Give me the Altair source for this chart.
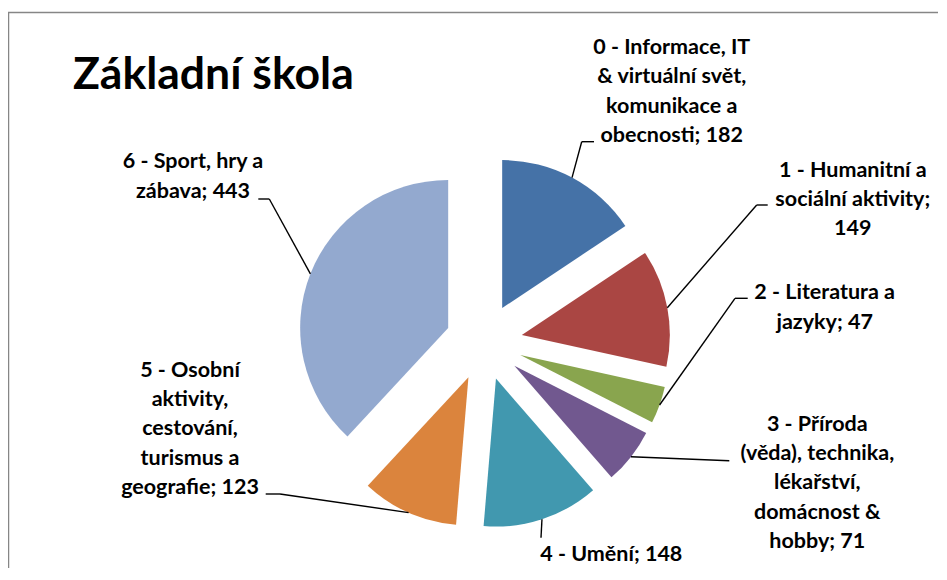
import altair as alt
import pandas as pd

# ---- data ----
codes = [0, 1, 2, 3, 4, 5, 6]
categories = [
    "Informace, IT & virtuální svět, komunikace a obecnosti",
    "Humanitní a sociální aktivity",
    "Literatura a jazyky",
    "Příroda (věda), technika, lékařství, domácnost & hobby",
    "Umění",
    "Osobní aktivity, cestování, turismus a geografie",
    "Sport, hry a zábava",
]
values = [182, 149, 47, 71, 148, 123, 443]
# label text wrapped as in the reference
label_lines = [
    ["0 - Informace, IT", "& virtuální svět,", "komunikace a", "obecnosti; 182"],
    ["1 - Humanitní a", "sociální aktivity;", "149"],
    ["2 - Literatura a", "jazyky; 47"],
    ["3 - Příroda", "(věda), technika,", "lékařství,", "domácnost &", "hobby; 71"],
    ["4 - Umění; 148"],
    ["5 - Osobní", "aktivity,", "cestování,", "turismus a", "geografie; 123"],
    ["6 - Sport, hry a", "zábava; 443"],
]
colors = ["#4572A7", "#AA4643", "#89A54E", "#71588F", "#4198AF", "#DB843D", "#93A9CF"]
title_text = "Základní škola"

# ---- layout (pixels) ----
CX, CY, R, EXPLODE = 476, 334, 148, 38.5
elbow_x = [573.7, 748.7, 727.0, 721.3, 533.0, 272.0, 261.3]
elbow_y = [133.7, 197.0, 290.3, 452.7, 529.7, 486.0, 191.0]
stub_x = [586.0, 759.7, 739.7, 721.3, 533.0, 257.7, 250.3]
stub_y = [133.7, 197.0, 290.3, 452.7, 529.7, 486.0, 191.0]
label_x = [663.7, 844.8, 816.7, 809.3, 603.3, 182.0, 185.0]
label_y = [46.0, 168.7, 291.3, 422.7, 552.7, 368.7, 160.3]

W, H = 930, 560
FONT = "Lato"

df = pd.DataFrame({
    "i": codes,
    "cat": categories,
    "v": values,
    "label": ["\n".join(l) for l in label_lines],
    "ex": elbow_x, "ey": elbow_y,
    "sx": stub_x, "sy": stub_y,
    "lx": label_x, "ly": label_y,
})

base = (
    alt.Chart(df)
    .transform_joinaggregate(total="sum(v)")
    .transform_window(cum="sum(v)", sort=[alt.SortField("i")], frame=[None, 0])
    .transform_calculate(t1="datum.cum / datum.total * 2 * PI")
    .transform_calculate(t0="(datum.cum - datum.v) / datum.total * 2 * PI")
    .transform_calculate(tm="(datum.t0 + datum.t1) / 2")
    .transform_calculate(cx=f"{CX} + {EXPLODE} * sin(datum.tm)")
    .transform_calculate(cy=f"{CY} - {EXPLODE} * cos(datum.tm)")
    .transform_calculate(mx=f"datum.cx + {R} * sin(datum.tm)")
    .transform_calculate(my=f"datum.cy - {R} * cos(datum.tm)")
)

slices = base.mark_arc(outerRadius=R, strokeWidth=0).encode(
    theta=alt.Theta("t0:Q", scale=None, stack=False),
    theta2="t1:Q",
    x=alt.X("cx:Q", scale=None),
    y=alt.Y("cy:Q", scale=None),
    color=alt.Color("cat:N", scale=alt.Scale(domain=categories, range=colors), legend=None),
)

lead1 = base.mark_rule(color="black", strokeWidth=1.4).encode(
    x=alt.X("mx:Q", scale=None), y=alt.Y("my:Q", scale=None),
    x2="ex:Q", y2="ey:Q",
)
lead2 = base.mark_rule(color="black", strokeWidth=1.4).encode(
    x=alt.X("ex:Q", scale=None), y=alt.Y("ey:Q", scale=None),
    x2="sx:Q", y2="sy:Q",
)

labels = base.mark_text(
    font=FONT, fontWeight="bold", fontSize=21.5, lineHeight=29.3,
    align="center", baseline="alphabetic", lineBreak="\n", color="black",
).encode(
    x=alt.X("lx:Q", scale=None), y=alt.Y("ly:Q", scale=None), text="label:N",
)

title = alt.Chart(pd.DataFrame({"t": [title_text]})).mark_text(
    font=FONT, fontWeight="bold", fontSize=44.5, align="left", baseline="alphabetic", color="black",
).encode(x=alt.value(65), y=alt.value(81), text="t:N")

frame_top = alt.Chart(pd.DataFrame({"a": [0]})).mark_rule(color="#868686", strokeWidth=1.5).encode(
    x=alt.value(0), x2=alt.value(W), y=alt.value(4.5)
)
frame_left = alt.Chart(pd.DataFrame({"a": [0]})).mark_rule(color="#868686", strokeWidth=1.5).encode(
    x=alt.value(0.5), y=alt.value(4.5), y2=alt.value(H)
)

chart = alt.layer(frame_top, frame_left, slices, lead1, lead2, labels, title).properties(
    width=W, height=H,
    autosize=alt.AutoSizeParams(type="none"),
    padding=0,
).configure_view(stroke=None)

chart.save("out.html", embed_options={"renderer": "svg", "actions": False})
